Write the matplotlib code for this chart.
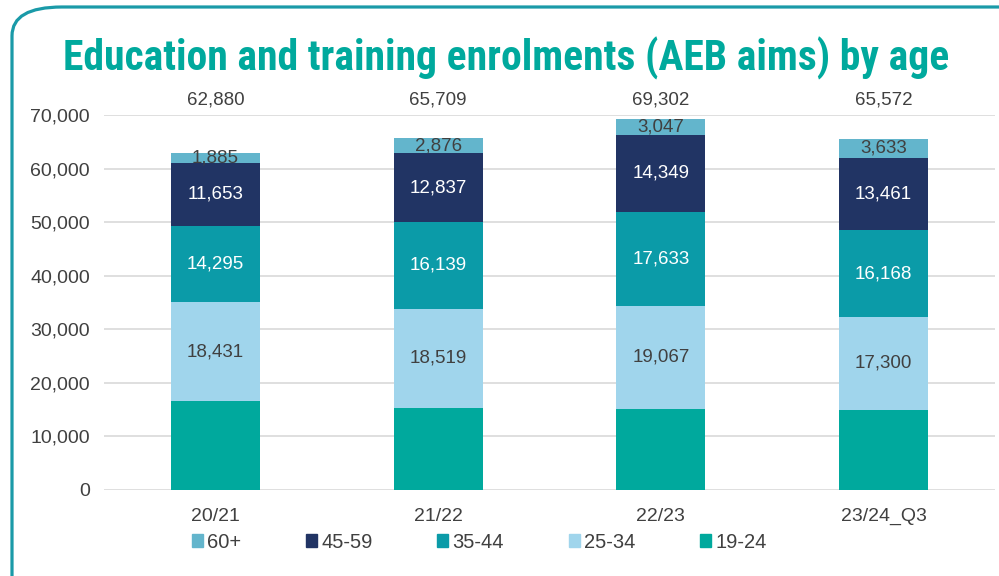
import matplotlib
matplotlib.use('Agg')
import matplotlib.pyplot as plt
from matplotlib.patches import FancyBboxPatch, Patch
from matplotlib.ticker import FuncFormatter

# data
years = ['20/21', '21/22', '22/23', '23/24_Q3']
totals = [62880, 65709, 69302, 65572]
age_19_24 = [16616, 15338, 15206, 15010]
age_25_34 = [18431, 18519, 19067, 17300]
age_35_44 = [14295, 16139, 17633, 16168]
age_45_59 = [11653, 12837, 14349, 13461]
age_60 = [1885, 2876, 3047, 3633]

series = [
    ('19-24', age_19_24, '#00a99d', None),
    ('25-34', age_25_34, '#a0d5ec', '#404040'),
    ('35-44', age_35_44, '#0b9ba8', 'white'),
    ('45-59', age_45_59, '#213464', 'white'),
    ('60+', age_60, '#63b5cc', '#404040'),
]

plt.rcParams['font.family'] = ['Liberation Sans', 'DejaVu Sans']

fig = plt.figure(figsize=(9.99, 5.76), dpi=100)

# rounded frame, only top and left edges visible
frame = FancyBboxPatch((12 / 999, 1 - 650 / 576), 1200 / 999, 643 / 576,
                       boxstyle='round,pad=0,rounding_size=0.05',
                       transform=fig.transFigure, fill=False,
                       edgecolor='#1a9aa8', linewidth=2.3)
fig.patches.append(frame)

fig.text(0.507, 0.898, 'Education and training enrolments (AEB aims) by age',
         ha='center', va='center', fontsize=30, fontweight='bold',
         color='#00a99d', family=['Roboto Condensed', 'Liberation Sans'])

ax = fig.add_axes([104 / 999, 1 - 490 / 576, 891 / 999, 375 / 576])
x = range(len(years))
bottom = [0] * len(years)
for name, vals, col, tcol in series:
    ax.bar(x, vals, bottom=bottom, width=0.4, color=col, zorder=3)
    if tcol:
        for i, v in enumerate(vals):
            ax.text(i, bottom[i] + v / 2, f'{v:,}', ha='center', va='center',
                    fontsize=13.5, color=tcol, zorder=4)
    bottom = [b + v for b, v in zip(bottom, vals)]

for i, t in enumerate(totals):
    ax.text(i, 1.04, f'{t:,}', transform=ax.get_xaxis_transform(),
            ha='center', va='center', fontsize=13.5, color='#404040')

ax.set_xlim(-0.5, 3.5)
ax.set_ylim(0, 70000)
ax.set_yticks(range(0, 70001, 10000))
ax.yaxis.set_major_formatter(FuncFormatter(lambda v, p: f'{int(v):,}'))
ax.set_xticks(list(x))
ax.set_xticklabels(years)
ax.tick_params(length=0, labelsize=14, labelcolor='#404040')
ax.tick_params(axis='x', pad=13)
ax.tick_params(axis='y', pad=10)
ax.grid(axis='y', color='#d9d9d9', linewidth=1.2, zorder=0)
for s in ax.spines.values():
    s.set_visible(False)

handles = [Patch(color=c) for _, _, c, _ in series][::-1]
labels = [n for n, _, _, _ in series][::-1]
fig.legend(handles, labels, ncol=5, loc='center left',
           bbox_to_anchor=(192 / 999, 1 - 542 / 576), borderpad=0, borderaxespad=0,
           frameon=False, handlelength=0.55, handleheight=0.65, handletextpad=0.2,
           columnspacing=3.22, prop={'size': 14.5}, labelcolor='#404040')

fig.savefig('out.png', dpi=100)
